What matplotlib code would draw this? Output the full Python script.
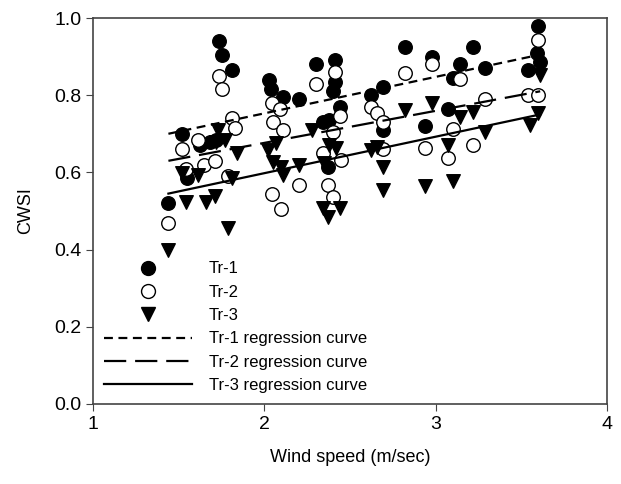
import numpy as np
import matplotlib
matplotlib.use('Agg')
import matplotlib.pyplot as plt
from matplotlib.lines import Line2D

plt.rcParams['font.family'] = ['Liberation Sans', 'DejaVu Sans']

# Tr-1 (filled circles)
tr1_x = [1.44, 1.52, 1.55, 1.625, 1.68, 1.72, 1.735, 1.755, 1.81, 2.03, 2.04, 2.11, 2.20, 2.30,
         2.34, 2.38, 2.40, 2.41, 2.41, 2.44, 2.37, 2.62, 2.69, 2.69, 2.82, 2.94, 2.98, 3.07, 3.10,
         3.14, 3.22, 3.29, 3.54, 3.59, 3.60, 3.61]
tr1_y = [0.52, 0.70, 0.585, 0.67, 0.68, 0.685, 0.94, 0.905, 0.865, 0.84, 0.815, 0.795, 0.79, 0.88,
         0.73, 0.735, 0.81, 0.89, 0.835, 0.77, 0.615, 0.80, 0.82, 0.71, 0.925, 0.72, 0.90, 0.765, 0.845,
         0.88, 0.925, 0.87, 0.865, 0.91, 0.98, 0.885]

# Tr-2 (open circles)
tr2_x = [1.44, 1.52, 1.54, 1.61, 1.65, 1.71, 1.735, 1.755, 1.79, 1.81, 1.83, 2.045, 2.045, 2.05,
         2.09, 2.10, 2.11, 2.20, 2.30, 2.34, 2.37, 2.40, 2.40, 2.41, 2.44, 2.45, 2.62, 2.66, 2.69,
         2.69, 2.82, 2.94, 2.98, 3.07, 3.10, 3.14, 3.22, 3.29, 3.54, 3.60, 3.60]
tr2_y = [0.47, 0.66, 0.61, 0.685, 0.62, 0.63, 0.85, 0.815, 0.59, 0.74, 0.715, 0.78, 0.545, 0.73,
         0.765, 0.505, 0.71, 0.567, 0.83, 0.65, 0.567, 0.535, 0.705, 0.86, 0.745, 0.632, 0.77, 0.755, 0.73,
         0.66, 0.857, 0.663, 0.88, 0.637, 0.712, 0.842, 0.671, 0.79, 0.80, 0.80, 0.943]

# Tr-3 (filled down triangles)
tr3_x = [1.44, 1.52, 1.54, 1.61, 1.66, 1.71, 1.72, 1.73, 1.77, 1.79, 1.81, 1.84, 2.02, 2.05,
         2.07, 2.10, 2.11, 2.20, 2.28, 2.34, 2.35, 2.37, 2.38, 2.42, 2.44, 2.62, 2.66, 2.69, 2.69,
         2.82, 2.94, 2.98, 3.07, 3.10, 3.14, 3.22, 3.29, 3.55, 3.60, 3.61]
tr3_y = [0.40, 0.598, 0.523, 0.593, 0.523, 0.54, 0.68, 0.71, 0.684, 0.456, 0.585, 0.65, 0.658, 0.628,
         0.676, 0.614, 0.593, 0.62, 0.71, 0.508, 0.624, 0.485, 0.67, 0.663, 0.508, 0.658, 0.666, 0.614, 0.554,
         0.762, 0.565, 0.78, 0.671, 0.578, 0.744, 0.756, 0.705, 0.723, 0.754, 0.852]

# regression lines: intercept, slope
reg_range = [1.44, 3.61]
reg_intercept = [0.564, 0.5105, 0.409]
reg_slope = [0.0945, 0.083, 0.0945]

fig = plt.figure(figsize=(6.21, 4.84), dpi=100)
ax = fig.add_axes([0.1498, 0.1653, 0.8277, 0.7975])

ms = 95
ax.scatter(tr1_x, tr1_y, s=ms, marker='o', facecolor='black', edgecolor='black', linewidth=1, zorder=3)
ax.scatter(tr2_x, tr2_y, s=ms, marker='o', facecolor='white', edgecolor='black', linewidth=1, zorder=3)
ax.scatter(tr3_x, tr3_y, s=ms, marker='v', facecolor='black', edgecolor='black', linewidth=1, zorder=3)

styles = [(0, (4, 2.5)), (0, (10, 4)), '-']
xr = np.array(reg_range)
for b, m, ls in zip(reg_intercept, reg_slope, styles):
    ax.plot(xr, b + m * xr, color='black', linestyle=ls, linewidth=1.6, zorder=4)

ax.set_xlim(1, 4)
ax.set_ylim(0, 1.0)
ax.set_xticks([1, 2, 3, 4])
ax.set_yticks([0.0, 0.2, 0.4, 0.6, 0.8, 1.0])
ax.set_yticklabels(['0.0', '0.2', '0.4', '0.6', '0.8', '1.0'])
ax.tick_params(direction='out', length=5, labelsize=14, top=False, right=False, color='#444444')
for sp in ax.spines.values():
    sp.set_color('#444444')
    sp.set_linewidth(1.2)

ax.set_xlabel('Wind speed (m/sec)', fontsize=13, labelpad=12)
ax.set_ylabel('CWSI', fontsize=13, labelpad=14)

handles = [
    Line2D([], [], marker='o', color='none', markerfacecolor='black', markeredgecolor='black', markersize=10),
    Line2D([], [], marker='o', color='none', markerfacecolor='white', markeredgecolor='black', markersize=10),
    Line2D([], [], marker='v', color='none', markerfacecolor='black', markeredgecolor='black', markersize=10),
    Line2D([], [], color='black', linestyle=styles[0], linewidth=1.6),
    Line2D([], [], color='black', linestyle=styles[1], linewidth=1.6),
    Line2D([], [], color='black', linestyle=styles[2], linewidth=1.6),
]
labels = ['Tr-1', 'Tr-2', 'Tr-3', 'Tr-1 regression curve', 'Tr-2 regression curve', 'Tr-3 regression curve']
ax.legend(handles, labels, loc='lower left', bbox_to_anchor=(0.0, 0.0), frameon=False,
          fontsize=12, handlelength=5.3, handletextpad=1.0, labelspacing=0.5, borderaxespad=0.25)

fig.savefig('out.png', dpi=100)
